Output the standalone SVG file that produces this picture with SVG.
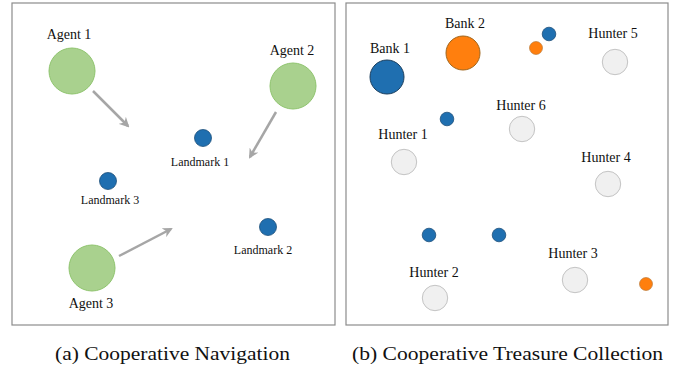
<svg xmlns="http://www.w3.org/2000/svg" width="683" height="370" viewBox="0 0 683 370">
<style>
text{font-family:"Liberation Serif","Times New Roman",serif;fill:#111;text-anchor:middle}
.lbl{font-size:14px}
.lm{font-size:12px}
.cap{font-size:18px;text-anchor:start}
.panel{fill:#fff;stroke:#8c8c8c;stroke-width:1.2}
.agent{fill:#a9d18e;stroke:#8fc46e;stroke-width:1}
.lmk{fill:#1f6fb0;stroke:#1d4f7a;stroke-width:0.8}
.bank1{fill:#1f6fb0;stroke:#1c3f5e;stroke-width:1}
.bank2{fill:#ff7f0e;stroke:#a0661c;stroke-width:1}
.treas{fill:#ff7f0e;stroke:#b07030;stroke-width:0.6}
.hunter{fill:#f0f0f0;stroke:#c4c4c4;stroke-width:1}
.arrow{stroke:#a6a6a6;stroke-width:2.5;fill:none;marker-end:url(#ah)}
</style>
<defs>
<marker id="ah" viewBox="0 0 10 10" refX="8" refY="5" markerWidth="4" markerHeight="4" orient="auto" markerUnits="strokeWidth">
<path d="M0,0 L10,5 L0,10 L3,5 Z" fill="#a6a6a6"/>
</marker>
</defs>
<rect class="panel" x="12" y="3" width="323" height="322"/>
<rect class="panel" x="346" y="3" width="322" height="322"/>
<g id="connectors">
<line class="arrow" x1="93" y1="91" x2="128" y2="126"/>
<line class="arrow" x1="276" y1="112" x2="250" y2="157"/>
<line class="arrow" x1="119" y1="256" x2="171" y2="229"/>
</g>
<g id="agent1"><circle class="agent" cx="72" cy="71" r="23"/><text class="lbl" x="69" y="39">Agent 1</text></g>
<g id="agent2"><circle class="agent" cx="293" cy="86" r="23"/><text class="lbl" x="292" y="55">Agent 2</text></g>
<g id="agent3"><circle class="agent" cx="92" cy="268" r="23"/><text class="lbl" x="91" y="308">Agent 3</text></g>
<g id="landmark1"><circle class="lmk" cx="203" cy="138" r="8.5"/><text class="lm" x="200" y="166">Landmark 1</text></g>
<g id="landmark2"><circle class="lmk" cx="268" cy="227" r="8.5"/><text class="lm" x="263" y="254">Landmark 2</text></g>
<g id="landmark3"><circle class="lmk" cx="108" cy="181" r="8.5"/><text class="lm" x="110" y="204">Landmark 3</text></g>
<g id="bank1"><circle class="bank1" cx="387" cy="77" r="17"/><text class="lbl" x="390" y="53">Bank 1</text></g>
<g id="bank2"><circle class="bank2" cx="463" cy="53" r="17"/><text class="lbl" x="465" y="28">Bank 2</text></g>
<g id="treasure-b1"><circle class="lmk" cx="549" cy="34" r="6.8"/></g>
<g id="treasure-o1"><circle class="treas" cx="536" cy="48" r="6.5"/></g>
<g id="treasure-b2"><circle class="lmk" cx="447" cy="119" r="6.8"/></g>
<g id="treasure-b3"><circle class="lmk" cx="429" cy="235" r="6.8"/></g>
<g id="treasure-b4"><circle class="lmk" cx="499" cy="235" r="6.8"/></g>
<g id="treasure-o2"><circle class="treas" cx="646" cy="284" r="6.5"/></g>
<g id="hunter1"><circle class="hunter" cx="404" cy="162" r="12.7"/><text class="lbl" x="403" y="139">Hunter 1</text></g>
<g id="hunter2"><circle class="hunter" cx="435" cy="298" r="12.7"/><text class="lbl" x="434" y="277">Hunter 2</text></g>
<g id="hunter3"><circle class="hunter" cx="575" cy="280" r="12.7"/><text class="lbl" x="573" y="258">Hunter 3</text></g>
<g id="hunter4"><circle class="hunter" cx="608" cy="184" r="12.7"/><text class="lbl" x="606" y="162">Hunter 4</text></g>
<g id="hunter5"><circle class="hunter" cx="615" cy="62" r="12.7"/><text class="lbl" x="613" y="38">Hunter 5</text></g>
<g id="hunter6"><circle class="hunter" cx="522" cy="129" r="12.7"/><text class="lbl" x="521" y="110">Hunter 6</text></g>
<text class="cap" x="55" y="360" textLength="235" lengthAdjust="spacingAndGlyphs">(a) Cooperative Navigation</text>
<text class="cap" x="352" y="360" textLength="311" lengthAdjust="spacingAndGlyphs">(b) Cooperative Treasure Collection</text>
</svg>
